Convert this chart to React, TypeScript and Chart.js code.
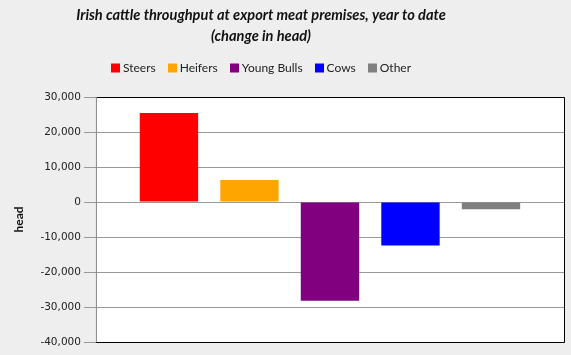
import React, { useEffect, useRef } from "react";
import { Chart, registerables } from "chart.js";

Chart.register(...registerables);

const titleLines = [
  "Irish cattle throughput at export meat premises, year to date",
  "(change in head)",
];
const categories = [""];
const seriesNames = ["Steers", "Heifers", "Young Bulls", "Cows", "Other"];
const seriesValues = [25400, 6300, -28200, -12400, -2100];
const seriesColors = ["#ff0000", "#ffa500", "#800080", "#0000ff", "#808080"];
const yAxisTitle = "head";
const yMin = -40000;
const yMax = 30000;
const yStep = 10000;

const headerCenterX = 261;

const plotFrame = {
  id: "plotFrame",
  beforeDraw(chart: any) {
    const { ctx, chartArea } = chart;
    ctx.save();
    ctx.fillStyle = "#eeeeee";
    ctx.fillRect(0, 0, chart.width, chart.height);
    ctx.fillStyle = "#ffffff";
    ctx.fillRect(chartArea.left, chartArea.top, chartArea.right - chartArea.left, chartArea.bottom - chartArea.top);
    ctx.restore();
  },
  afterDatasetsDraw(chart: any) {
    const { ctx, chartArea } = chart;
    ctx.save();
    ctx.strokeStyle = "#000000";
    ctx.lineWidth = 1;
    ctx.beginPath();
    ctx.moveTo(chartArea.left, chartArea.top + 0.5);
    ctx.lineTo(chartArea.right + 0.5, chartArea.top + 0.5);
    ctx.lineTo(chartArea.right + 0.5, chartArea.bottom + 0.5);
    ctx.lineTo(chartArea.left, chartArea.bottom + 0.5);
    ctx.stroke();
    ctx.strokeStyle = "#888888";
    ctx.beginPath();
    ctx.moveTo(chartArea.left + 0.5, chartArea.top);
    ctx.lineTo(chartArea.left + 0.5, chartArea.bottom);
    ctx.stroke();
    ctx.restore();
  },
  afterDraw(chart: any) {
    const { ctx } = chart;
    ctx.save();
    // title
    ctx.fillStyle = "#111111";
    ctx.font = "italic bold 14.6px Lato";
    ctx.textAlign = "center";
    ctx.textBaseline = "middle";
    titleLines.forEach((line, i) => {
      ctx.fillText(line, headerCenterX, 15 + i * 21);
    });
    // legend
    ctx.font = "12px Lato";
    ctx.textAlign = "left";
    const box = 9;
    const gapText = 3;
    const gapItem = 12;
    const items = chart.data.datasets.map((d: any) => ({
      label: d.label,
      color: d.backgroundColor,
      w: ctx.measureText(d.label).width,
    }));
    const total =
      items.reduce((s: number, it: any) => s + box + gapText + it.w, 0) + gapItem * (items.length - 1);
    let x = headerCenterX - total / 2;
    const cy = 68;
    items.forEach((it: any) => {
      ctx.fillStyle = it.color;
      ctx.fillRect(Math.round(x), cy - 4.5, box, box);
      ctx.fillStyle = "#222222";
      ctx.fillText(it.label, x + box + gapText, cy + 0.5);
      x += box + gapText + it.w + gapItem;
    });
    ctx.restore();
  },
};

export default function App() {
  const ref = useRef<HTMLCanvasElement>(null);
  useEffect(() => {
    document.body.style.margin = "0";
    document.body.style.background = "#eeeeee";
    const chart = new Chart(ref.current!, {
      type: "bar",
      data: {
        labels: categories,
        datasets: seriesNames.map((name, i) => ({
          label: name,
          data: [seriesValues[i]],
          backgroundColor: seriesColors[i],
          borderWidth: 0,
        })),
      },
      options: {
        animation: false,
        responsive: false,
        maintainAspectRatio: false,
        layout: { padding: { left: 8, right: 7, bottom: 13, top: 97 } },
        datasets: { bar: { categoryPercentage: 0.86, barPercentage: 0.725 } },
        plugins: {
          title: { display: false },
          legend: { display: false },
          tooltip: { enabled: false },
        },
        scales: {
          x: { display: false },
          y: {
            min: yMin,
            max: yMax,
            ticks: {
              stepSize: yStep,
              color: "#222222",
              font: { family: "DejaVu Sans", size: 10.5 },
              padding: 3,
              callback: (v: any) => Number(v).toLocaleString("en-US"),
            },
            grid: { color: "#999999", tickLength: 12, drawTicks: true },
            border: { display: false },
            title: {
              display: true,
              text: yAxisTitle,
              color: "#111111",
              font: { family: "Lato", size: 12, weight: "bold" },
              padding: { bottom: 11 },
            },
          },
        },
      },
      plugins: [plotFrame],
    } as any);
    return () => chart.destroy();
  }, []);
  return <canvas ref={ref} width={571} height={355} style={{ display: "block" }} />;
}
